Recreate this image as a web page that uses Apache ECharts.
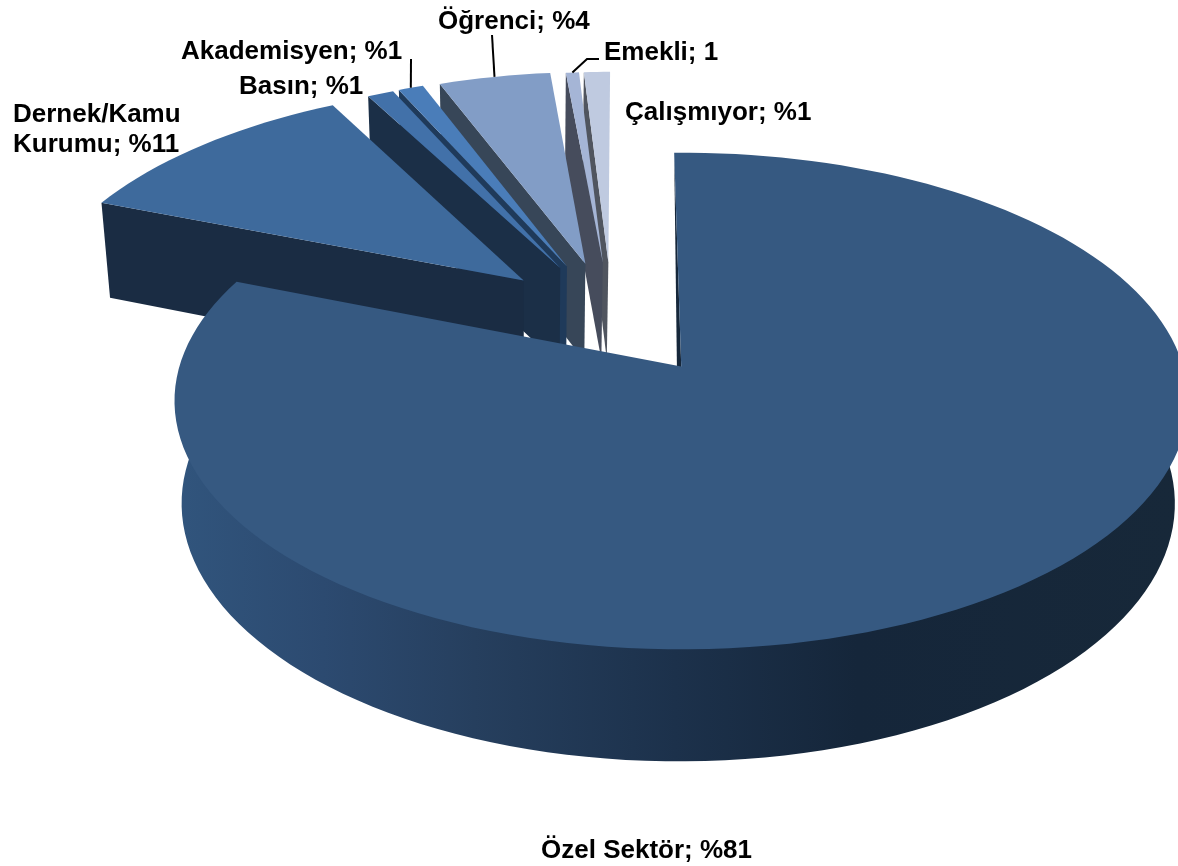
<!DOCTYPE html>
<html>
<head>
<meta charset="utf-8">
<style>
	html, body { margin: 0; padding: 0; background: #fff; }
	#chart { width: 1178px; height: 866px; }
</style>
<script src="https://cdn.jsdelivr.net/npm/echarts@6/dist/echarts.min.js"></script>
</head>
<body>
<div id="chart"></div>
<script>
// data, clockwise from the top of the pie
var categories = ['Özel Sektör', 'Dernek/Kamu Kurumu', 'Basın', 'Akademisyen', 'Öğrenci', 'Emekli', 'Çalışmıyor'];
var shares = [81.2, 11.1, 1.0, 0.95, 4.25, 0.5, 1.0];
var labels = ['Özel Sektör; %81', 'Dernek/Kamu\nKurumu; %11', 'Basın; %1', 'Akademisyen; %1', 'Öğrenci; %4', 'Emekli; 1', 'Çalışmıyor; %1'];

// styles
var topColors = ['#365981', '#3E6A9C', '#4271A9', '#4A7DB9', '#829DC6', '#A5B5D6', '#BFCAE0'];
var wallColors = ['#16273A', '#1A2C43', '#1B2F47', '#1F3A5A', '#374658', '#464C5C', '#50555F'];
var drawOrder = [6, 5, 4, 3, 2, 1, 0];
var rimScale = [1, 1.014, 1.006, 1.008, 1.006, 1, 1];
var labelBoxes = [[541, 851], [13, 130], [239, 87], [181, 52], [438, 22], [604, 53], [625, 113]];
var leaderStarts = { 3: [[411, 59]], 4: [[492, 35]], 5: [[599, 59], [587, 59]] };

// projection of the tilted pie
var view = { cx: 680, cy: 367, A: 502, B: 243.7, k: 0.139, vx: 530, sx: 0.98, sy: 1.038, dy: 87.3 };
var startAngle = -0.9;
var explode = 0.25;
var pieCenter = [-0.14, 0.2075];

function rad(deg) { return deg * Math.PI / 180; }
function project(x, y) {
	var w = 1 + view.k * y;
	return [view.cx + view.A * x / w, view.cy - view.B * y / w];
}
function lower(p) {
	return [view.vx + (p[0] - view.vx) * view.sx, p[1] * view.sy + view.dy];
}
function sliceAngles(index) {
	var total = shares.reduce(function (a, b) { return a + b; }, 0);
	var before = 0;
	for (var i = 0; i < index; i++) {
		before += shares[i];
	}
	var a0 = startAngle + before / total * 360;
	return [a0, a0 + shares[index] / total * 360];
}
function sliceApex(index) {
	var a = sliceAngles(index);
	var mid = rad((a[0] + a[1]) / 2);
	return [pieCenter[0] + explode * Math.sin(mid), pieCenter[1] + explode * Math.cos(mid)];
}
function rimPoint(index, deg) {
	var apex = sliceApex(index);
	var r = rimScale[index];
	return project(apex[0] + r * Math.sin(rad(deg)), apex[1] + r * Math.cos(rad(deg)));
}

function renderSlice(params, api) {
	var index = api.value(0);
	var a = sliceAngles(index);
	var ap = sliceApex(index);
	var apex = project(ap[0], ap[1]);
	var steps = Math.max(4, Math.round((a[1] - a[0]) / 2));
	var rim = [];
	for (var i = 0; i <= steps; i++) {
		rim.push(rimPoint(index, a[0] + (a[1] - a[0]) * i / steps));
	}
	var children;
	if (index === 0) {
		// big slice: only the front of the outer wall shows, the inner wall is a sliver
		var front = rim.filter(function (p, i) { return a[0] + (a[1] - a[0]) * i / steps > 60; });
		// pull the wall's upper edge under the top face, so no seam shows along the rim
		var under = front.map(function (p) {
			return [apex[0] + (p[0] - apex[0]) * 0.97, apex[1] + (p[1] - apex[1]) * 0.97];
		});
		var wallFill = new echarts.graphic.LinearGradient(173, 0, 1178, 0, [
			{ offset: 0, color: '#31557D' },
			{ offset: 0.15, color: '#2C4A70' },
			{ offset: 0.3, color: '#263F5E' },
			{ offset: 0.5, color: '#1C314B' },
			{ offset: 0.68, color: '#15263A' },
			{ offset: 1, color: '#172839' }
		], true);
		children = [
			{ type: 'polygon', shape: { points: under.concat(front.map(lower).reverse()) }, style: { fill: wallFill } },
			{ type: 'polygon', shape: { points: [apex, rim[0], lower(apex)] }, style: { fill: wallColors[0] } }
		];
	} else {
		children = [
			{ type: 'polygon', shape: { points: [apex, rim[0], lower(rim[0]), lower(apex)] }, style: { fill: wallColors[index] } }
		];
	}
	children.push({ type: 'polygon', shape: { points: [apex].concat(rim) }, style: { fill: topColors[index] } });
	return { type: 'group', children: children };
}

function renderLabel(params, api) {
	var index = api.value(0);
	var box = labelBoxes[index];
	var children = [{
		type: 'text',
		style: {
			text: labels[index], x: box[0], y: box[1],
			font: 'bold 26px "Liberation Sans", Arial, sans-serif',
			fill: '#000', lineHeight: 30,
			align: 'left', verticalAlign: 'middle'
		}
	}];
	if (leaderStarts[index]) {
		var a = sliceAngles(index);
		children.push({
			type: 'polyline',
			shape: { points: leaderStarts[index].concat([rimPoint(index, (a[0] + a[1]) / 2)]) },
			style: { fill: 'none', stroke: '#000', lineWidth: 2 }
		});
	}
	return { type: 'group', children: children };
}

var myChart = echarts.init(document.getElementById('chart'), null, { renderer: 'canvas' });
myChart.setOption({
	backgroundColor: '#fff',
	animation: false,
	series: [
		{
			type: 'custom',
			coordinateSystem: 'none',
			renderItem: renderSlice,
			silent: true,
			data: drawOrder.map(function (i) { return { name: categories[i], value: [i, shares[i]] }; })
		},
		{
			type: 'custom',
			coordinateSystem: 'none',
			renderItem: renderLabel,
			silent: true,
			z: 5,
			data: categories.map(function (name, i) { return { name: name, value: [i] }; })
		}
	]
});
</script>
</body>
</html>
